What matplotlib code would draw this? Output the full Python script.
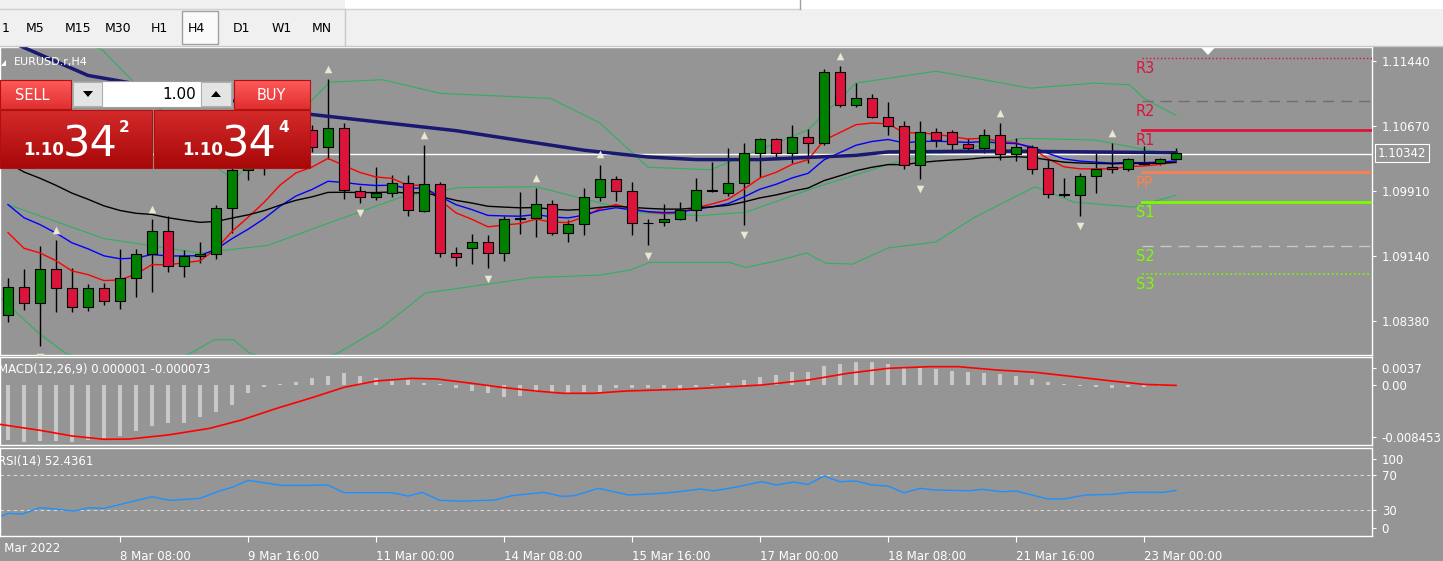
import numpy as np
import matplotlib
matplotlib.use("Agg")
import matplotlib.pyplot as plt
from matplotlib.patches import Rectangle, Polygon

# ---------------- data ----------------
opens  = [1.0845,1.0878,1.0859,1.0899,1.0877,1.0855,1.0877,1.0861,1.0889,1.0917,
          1.0944,1.0903,1.0915,1.0917,1.0971,1.1016,1.1018,1.1039,1.1069,1.1063,
          1.1043,1.1065,1.0991,1.0984,1.0989,1.1000,1.0968,1.0999,1.0918,1.0924,
          1.0931,1.0918,1.0958,1.0959,1.0976,1.0942,1.0952,1.0984,1.1005,1.0991,
          1.0953,1.0955,1.0958,1.0969,1.0992,1.0989,1.1000,1.1036,1.1052,1.1036,
          1.1055,1.1047,1.1131,1.1092,1.1101,1.1078,1.1067,1.1022,1.1060,1.1060,
          1.1046,1.1042,1.1057,1.1035,1.1043,1.1018,1.0987,1.0986,1.1009,1.1019,
          1.1017,1.1023,1.1024,1.1029]
highs  = [1.0889,1.0899,1.0926,1.0933,1.0900,1.0882,1.0883,1.0923,1.0923,1.0958,
          1.0961,1.0922,1.0931,1.0975,1.1022,1.1028,1.1051,1.1080,1.1077,1.1069,
          1.1123,1.1071,1.0997,1.1019,1.1010,1.1010,1.1045,1.1001,1.0925,1.0940,
          1.0939,1.0962,1.0990,1.0994,1.0980,1.0957,1.0994,1.1022,1.1009,1.1001,
          1.0958,1.0976,1.0978,1.1006,1.1025,1.1042,1.1047,1.1053,1.1053,1.1069,
          1.1064,1.1134,1.1138,1.1118,1.1105,1.1096,1.1073,1.1073,1.1065,1.1063,
          1.1053,1.1064,1.1071,1.1053,1.1045,1.1028,1.1006,1.1012,1.1036,1.1047,
          1.1030,1.1044,1.1030,1.1042]
lows   = [1.0837,1.0851,1.0808,1.0849,1.0848,1.0850,1.0857,1.0852,1.0866,1.0872,
          1.0896,1.0890,1.0906,1.0911,1.0942,1.1004,1.1010,1.1033,1.1051,1.1037,
          1.1029,1.0982,1.0977,1.0980,1.0984,1.0962,1.0966,1.0913,1.0903,1.0905,
          1.0900,1.0909,1.0940,1.0937,1.0939,1.0931,1.0939,1.0979,1.0979,1.0939,
          1.0927,1.0950,1.0957,1.0956,1.0990,1.0985,1.0951,1.1007,1.1031,1.1024,
          1.1024,1.1045,1.1090,1.1090,1.1077,1.1057,1.1017,1.1005,1.1043,1.1037,
          1.1037,1.1036,1.1028,1.1026,1.1011,1.0983,1.0984,1.0962,1.0989,1.1012,
          1.1015,1.1022,1.1022,1.1028]
closes = [1.0878,1.0859,1.0899,1.0877,1.0855,1.0877,1.0861,1.0889,1.0917,1.0944,
          1.0903,1.0915,1.0917,1.0971,1.1016,1.1018,1.1039,1.1069,1.1063,1.1043,
          1.1065,1.0992,1.0984,1.0989,1.1000,1.0969,1.0999,1.0918,1.0913,1.0931,
          1.0918,1.0958,1.0959,1.0976,1.0942,1.0952,1.0984,1.1005,1.0991,1.0953,
          1.0953,1.0958,1.0969,1.0992,1.0991,1.1000,1.1036,1.1052,1.1036,1.1055,
          1.1047,1.1131,1.1092,1.1101,1.1078,1.1067,1.1022,1.1060,1.1051,1.1046,
          1.1042,1.1057,1.1035,1.1043,1.1017,1.0987,1.0986,1.1009,1.1017,1.1017,
          1.1029,1.1023,1.1029,1.1036]

# moving averages: EMA spans and starting values read at the first bar
ema_specs = [(8, 1.0942, "#ff0000"), (14, 1.0975, "#0000ff"), (30, 1.1024, "#000000")]

navy_idx = [0, 5, 19, 28, 36, 40, 43, 47, 53, 55, 62, 73]
navy_val = [1.1168,1.1127,1.1081,1.1062,1.1039,1.1031,1.1028,1.1028,1.1033,1.1037,1.1038,1.1036]

bb_up_idx = [0,5.9,7.4,13.25,14.1,20.1,23.4,27,33.9,37,40,43.9,46.9,50,53,58,63.9,67.9,70.1,71,73]
bb_up_val = [1.1200,1.1157,1.1128,1.1016,1.1004,1.1119,1.1122,1.1106,1.1100,1.1071,1.1019,
             1.1016,1.1039,1.1063,1.1118,1.1132,1.1112,1.1118,1.1116,1.1100,1.1080]
bb_mid_idx = [0,6,12,16.25,20.3,24.6,28.2,33,37,39.7,43.2,46.1,50.6,55.5,60.4,63.4,67.9,73]
bb_mid_val = [1.0975,1.0935,1.0918,1.0927,1.0955,1.0984,1.0995,1.0996,1.0977,1.0965,1.0962,
              1.0966,1.0996,1.1025,1.1043,1.1053,1.1051,1.1033]
bb_lo_idx = [-0.5,1.9,3.6,8,11.4,12.9,14.1,15.1,18,20.6,23.4,26.1,30.6,32.75,37,38.9,40.1,
             45.1,46.1,48.1,49.9,51.1,52.8,55,58,60.4,64.2,66.6,70.4,73]
bb_lo_val = [1.0866,1.0824,1.0800,1.0775,1.0800,1.0816,1.0816,1.0800,1.0785,1.0800,1.0831,
             1.0871,1.0883,1.0889,1.0892,1.0898,1.0907,1.0907,1.0901,1.0909,1.0918,1.0906,
             1.0905,1.0924,1.0931,1.0960,1.0996,1.0978,1.0972,1.0986]

fract_up = [3, 9, 20, 26, 33, 37, 52, 62, 69]
fract_dn = [2, 22, 30, 40, 46, 57, 67]

pivot_names  = ["R3","R2","R1","PP","S1","S2","S3"]
pivot_vals   = [1.11475,1.10969,1.10628,1.10128,1.09786,1.09268,1.08933]

macd_hist = [-0.00894,-0.00932,-0.00911,-0.00911,-0.00921,-0.00894,-0.00867,-0.00824,-0.00748,-0.00661,
             -0.00623,-0.00623,-0.00515,-0.00434,-0.00325,-0.00136,-0.00027,0.0001,0.00043,0.00119,
             0.00146,0.0019,0.00152,0.00119,0.00065,0.00081,0.00027,0.0002,-0.00054,-0.00098,
             -0.00136,-0.0019,-0.00173,-0.00119,-0.00108,-0.00136,-0.00119,-0.00119,-0.00054,-0.00054,
             -0.00054,-0.00054,-0.00065,-0.0003,0.0001,0.00027,0.00081,0.0013,0.00163,0.00206,
             0.00217,0.0031,0.00341,0.00379,0.00369,0.00341,0.00282,0.00282,0.0026,0.00233,
             0.00206,0.002,0.00173,0.00152,0.00098,0.00054,0.0001,-0.0002,-0.00033,-0.00043,
             -0.00033,-0.00027,-0.0002,0.00001]
sig_idx = [-0.5,2,4,6,7.6,10,12.6,14.6,16.8,19,21,23,25.2,26.8,29,31,33,34.7,36.6,38.6,42.6,
           47.1,50,52.5,55,57.6,59.4,61.8,64.2,66.6,69,71,73]
sig_val = [-0.0064,-0.00737,-0.00829,-0.00883,-0.00878,-0.00813,-0.00705,-0.00569,-0.00379,-0.00206,
           -0.00038,0.00065,0.00108,0.00098,0.00027,-0.00043,-0.00098,-0.00135,-0.00135,-0.00098,
           -0.00065,0.0,0.00081,0.0019,0.00271,0.00298,0.00298,0.00244,0.00206,0.00136,0.00065,
           0.0001,-0.00007]

rsi_idx = [-0.5,0,0.9,2,3.1,4.1,5.1,6,7.3,9,10.1,12,13.2,14,15,17.1,18.8,20,21,24,25,25.9,27,
           28.5,30.4,31.5,33.5,34.6,35.4,36.9,38.8,40.8,41.9,43.25,44.1,45.3,47.1,48,49.1,50,51,
           52,53,54,55,56,57,57.9,60,60.9,62.1,63,65,66,67.3,69,70.1,72.2,73]
rsi_val = [22.4,26.2,25.4,32.7,30.8,28.9,32.7,31.9,37.6,45.2,41,43.3,51.7,55.9,63.9,58.2,58.2,58.6,
           49.8,49.8,46,50.2,41,40.2,41.4,46.4,50.2,45.6,46.4,54.8,47.1,49,50.9,54,52,55.5,62.4,
           58.6,61.9,59.3,68.8,62.4,63.1,58.6,57.4,49.8,54.8,52.9,52,53.6,50.9,51.7,42.6,42.6,
           47.1,47.9,50.2,50.2,52.4]

first_date = "7 Mar 2022"
date_idx = [7, 15, 23, 31, 39, 47, 55, 63, 71]
date_lbl = ["8 Mar 08:00","9 Mar 16:00","11 Mar 00:00","14 Mar 08:00",
            "15 Mar 16:00","17 Mar 00:00","18 Mar 08:00","21 Mar 16:00","23 Mar 00:00"]
price_ticks = [1.11440, 1.10670, 1.09910, 1.09140, 1.08380]
bid = 1.10342
tf_labels = ["1","M5","M15","M30","H1","H4","D1","W1","MN"]

# ---------------- figure ----------------
W, H = 1443, 561
BG = "#959595"
fig = plt.figure(figsize=(W/100, H/100), dpi=100)
fig.patch.set_facecolor(BG)

def pax(x0, y0, x1, y1, **kw):
    return fig.add_axes([x0/W, 1-y1/H, (x1-x0)/W, (y1-y0)/H], **kw)

XL = (-0.5, 85.25)
def style(ax):
    ax.set_facecolor(BG)
    for s in ax.spines.values():
        s.set_color("white"); s.set_linewidth(1)
    ax.set_xlim(*XL)
    ax.yaxis.tick_right()
    ax.tick_params(axis="y", colors="white", labelsize=8.5, length=3, pad=4)
    ax.tick_params(axis="x", length=0, labelbottom=False)

ax = pax(0, 47, 1372, 355); style(ax)
axm = pax(0, 357, 1372, 445); style(axm)
axr = pax(0, 448, 1372, 536); style(axr)

ax.set_ylim(1.079797, 1.116048)
ax.set_yticks(price_ticks)
ax.set_yticklabels([f"{v:.5f}" for v in price_ticks])

x = np.arange(len(closes))
o = np.array(opens); c = np.array(closes); h = np.array(highs); l = np.array(lows)

# bands & MAs
bc = "#2fb060"
ax.plot(bb_up_idx, bb_up_val, color=bc, lw=0.8, zorder=2)
ax.plot(bb_mid_idx, bb_mid_val, color=bc, lw=0.8, zorder=2)
ax.plot(bb_lo_idx, bb_lo_val, color=bc, lw=0.8, zorder=2)
ax.axhline(bid, color="white", lw=1, zorder=2)
for span, seed, col in ema_specs:
    a = 2/(span+1); e = [seed]
    for v in c[1:]:
        e.append(a*v + (1-a)*e[-1])
    ax.plot(x, e, color=col, lw=1, zorder=4)
ax.plot(navy_idx, navy_val, color="#191970", lw=2.5, zorder=4)

# candles
for i in x:
    ax.vlines(i, l[i], h[i], color="black", lw=1, zorder=3)
    up = c[i] >= o[i]
    lo_, hi_ = min(o[i], c[i]), max(o[i], c[i])
    ax.add_patch(Rectangle((i-0.3, lo_), 0.6, max(hi_-lo_, 0.00004),
                           fc="#008000" if up else "#dc143c", ec="black", lw=0.8, zorder=5))

ax.scatter(fract_up, h[fract_up] + 0.0012, marker="^", s=30, c="#ece6d2", zorder=6, linewidths=0)
ax.scatter(fract_dn, l[fract_dn] - 0.0012, marker="v", s=30, c="#ece6d2", zorder=6, linewidths=0)

# pivots
pstyles = [("#dc143c", ":", 1), ("#6e6e6e", (0, (8, 5)), 1), ("#dc143c", "-", 2),
           ("#ff7f50", "-", 2), ("#7cfc00", "-", 2), ("#c8c8c8", (0, (8, 5)), 1), ("#7cfc00", ":", 1.2)]
lblc = ["#dc143c","#dc143c","#dc143c","#ff7f50","#7cfc00","#7cfc00","#7cfc00"]
for name, v, (col, ls, lw), lc in zip(pivot_names, pivot_vals, pstyles, lblc):
    ax.plot([70.9, XL[1]], [v, v], color=col, ls=ls, lw=lw, zorder=3)
    ax.text(70.5, v - 0.0004, name, color=lc, fontsize=10.5, va="top", ha="left", zorder=7)

# MACD
axm.set_ylim(-0.009756, 0.004553)
axm.bar(x, macd_hist, width=0.3, color="#c8c8c8", zorder=2)
axm.plot(sig_idx, sig_val, color="#ff0000", lw=1.2, zorder=3)
axm.set_yticks([0.00276, 0.0, -0.00846])
axm.set_yticklabels(["0.0037", "0.00", "-0.008453"])
axm.text(-0.65, 0.0026, "MACD(12,26,9) 0.000001 -0.000073", color="white", fontsize=8.5, va="center")

# RSI
axr.set_ylim(0.3, 100.9)
axr.axhline(70, color="#d8d8d8", ls=(0, (3, 3)), lw=0.8)
axr.axhline(30, color="#d8d8d8", ls=(0, (3, 3)), lw=0.8)
axr.plot(rsi_idx, rsi_val, color="#1e90ff", lw=1)
axr.set_yticks([88, 70, 30, 10])
axr.set_yticklabels(["100", "70", "30", "0"])
axr.text(-0.65, 85, "RSI(14) 52.4361", color="white", fontsize=8.5, va="center")
axr.set_xticks(date_idx)
axr.set_xticklabels(date_lbl)
axr.tick_params(axis="x", length=4, colors="white", labelbottom=True, labelsize=8.5, pad=6, direction="out")
for t in axr.get_xticklabels():
    t.set_horizontalalignment("left")

# ---------------- overlay (UI) ----------------
ov = fig.add_axes([0, 0, 1, 1], zorder=10)
ov.set_xlim(0, W); ov.set_ylim(H, 0); ov.axis("off"); ov.patch.set_alpha(0)

ov.text(-7, 549, first_date, fontsize=8.5, color="white", ha="left", va="center", clip_on=False)

# toolbar
ov.add_patch(Rectangle((0, 0), W, 46, fc="#f0f0f0", ec="none"))
ov.add_patch(Rectangle((345, 0), W-345, 9, fc="white", ec="none"))
ov.plot([0, 800], [8.5, 8.5], color="#d0d0d0", lw=1)
ov.plot([800, 800], [0, 8.5], color="#a0a0a0", lw=1)
ov.plot([345, 345], [9, 46], color="#c8c8c8", lw=1)
ov.plot([0, W], [46, 46], color="#c8c8c8", lw=1)
ov.add_patch(Rectangle((182, 11), 36, 33, fc="#fafafa", ec="#a0a0a0", lw=1))
for lab, cx in zip(tf_labels, [2, 35, 78, 118, 159, 196, 241, 282, 322]):
    ov.text(cx, 28, lab, fontsize=9, color="black", ha="center" if lab != "1" else "left", va="center")
ov.add_patch(Polygon([[1201, 47.5], [1215, 47.5], [1208, 55]], fc="white", ec="none"))

# title
ov.add_patch(Polygon([[1, 66], [6, 66], [6, 60]], fc="white", ec="none"))
ov.text(14, 62, "EURUSD.r,H4", fontsize=8, color="white", va="center")

# trade panel
def grad(x0, y0, x1, y1, c_top, c_bot):
    g = np.linspace(0, 1, 64)[:, None, None]
    ct = np.array(matplotlib.colors.to_rgb(c_top)); cb = np.array(matplotlib.colors.to_rgb(c_bot))
    img = ct*(1-g) + cb*g
    img = np.repeat(img, 2, axis=1)
    ov.imshow(img, extent=(x0, x1, y1, y0), aspect="auto", zorder=11)
    ov.add_patch(Rectangle((x0, y0), x1-x0, y1-y0, fc="none", ec="#b01010", lw=0.8, zorder=12))

grad(0, 80, 71, 109, "#ff5a5a", "#e03030")
grad(234, 80, 310, 109, "#ff5a5a", "#e03030")
ov.text(32, 95, "SELL", fontsize=10.5, color="white", ha="center", va="center", zorder=13)
ov.text(271, 95, "BUY", fontsize=10.5, color="white", ha="center", va="center", zorder=13)
ov.add_patch(Rectangle((72, 81), 160, 26, fc="white", ec="#a0a0a0", lw=0.8, zorder=12))
ov.add_patch(Rectangle((73, 82), 29, 24, fc="#e4e4e4", ec="#b0b0b0", lw=0.8, zorder=12))
ov.add_patch(Rectangle((201, 82), 30, 24, fc="#e4e4e4", ec="#b0b0b0", lw=0.8, zorder=12))
ov.add_patch(Polygon([[83, 91], [93, 91], [88, 97]], fc="black", zorder=13))
ov.add_patch(Polygon([[211, 97], [221, 97], [216, 91]], fc="black", zorder=13))
ov.text(196, 94, "1.00", fontsize=11, color="black", ha="right", va="center", zorder=13)
grad(0, 110, 152, 168, "#d42a2a", "#a80808")
grad(154, 110, 310, 168, "#d42a2a", "#a80808")
for bx, sup in [(23, "2"), (182, "4")]:
    ov.text(bx, 155, "1.10", fontsize=12, color="white", fontweight="bold", ha="left", va="baseline", zorder=13)
    ov.text(bx+40, 156, "34", fontsize=31, color="white", ha="left", va="baseline", zorder=13)
    ov.text(bx+96, 127, sup, fontsize=11, color="white", fontweight="bold", ha="left", va="center", zorder=13)

# current price label
ov.text(1378, 153, "1.10342", fontsize=8.5, color="white", va="center", ha="left",
        bbox=dict(boxstyle="square,pad=0.25", fc=BG, ec="white", lw=0.8))

fig.savefig("out.png", dpi=100, facecolor=BG)
